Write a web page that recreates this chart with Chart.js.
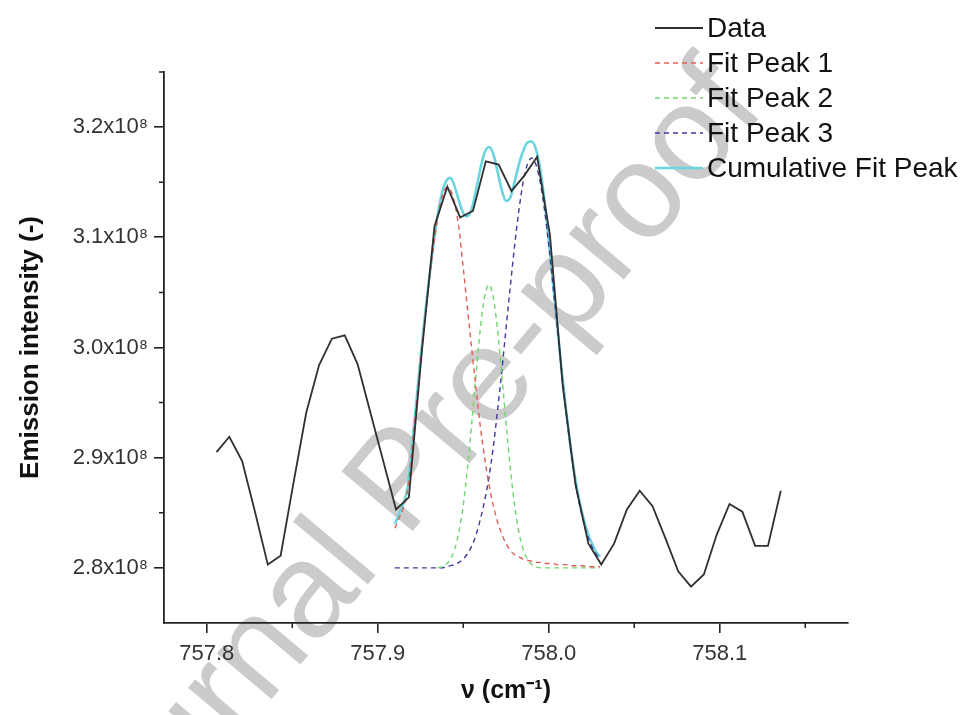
<!DOCTYPE html>
<html>
<head>
<meta charset="utf-8">
<script src="https://cdn.jsdelivr.net/npm/chart.js@4.4.0/dist/chart.umd.min.js"></script>
<style>
html,body{margin:0;padding:0;background:#fff;}
</style>
</head>
<body>
<canvas id="emissionChart" width="964" height="715"></canvas>
<script>
// measured spectrum, wavenumber in cm-1
const dataX=[757.8057,757.8132,757.8207,757.8282,757.8357,757.8432,757.8507,757.8582,757.8657,757.8732,
  757.8807,757.8882,757.8957,757.9032,757.9107,757.9182,757.9257,757.9332,757.9407,757.9482,
  757.9557,757.9632,757.9707,757.9782,757.9857,757.9932,758.0007,758.0082,758.0157,758.0232,
  758.0307,758.0382,758.0457,758.0532,758.0607,758.0682,758.0757,758.0832,758.0907,758.0982,
  758.1057,758.1132,758.1207,758.1282,758.1357];
// intensity, in units of 1e8
const dataY=[2.905,2.919,2.897,2.851,2.803,2.811,2.877,2.941,2.984,3.008,
  3.011,2.985,2.941,2.897,2.853,2.864,2.995,3.110,3.146,3.118,
  3.124,3.169,3.166,3.142,3.156,3.173,3.102,2.965,2.875,2.822,
  2.803,2.822,2.853,2.870,2.856,2.827,2.797,2.783,2.794,2.830,
  2.858,2.851,2.820,2.820,2.870];

// fitted curves share one x grid
const fitX=[757.9100,757.9125,757.9150,757.9175,757.9200,757.9225,757.9250,757.9275,757.9300,757.9325,
  757.9350,757.9375,757.9400,757.9425,757.9450,757.9475,757.9500,757.9525,757.9550,757.9575,
  757.9600,757.9625,757.9650,757.9675,757.9700,757.9725,757.9750,757.9775,757.9800,757.9825,
  757.9850,757.9875,757.9900,757.9925,757.9950,757.9975,758.0000,758.0025,758.0050,758.0075,
  758.0100,758.0125,758.0150,758.0175,758.0200,758.0225,758.0250,758.0275,758.0300];
const peak1Y=[2.836,2.845,2.855,2.871,2.907,2.947,2.987,3.025,3.059,3.090,
  3.117,3.136,3.145,3.143,3.131,3.108,3.072,3.035,2.998,2.962,
  2.928,2.900,2.876,2.857,2.842,2.831,2.822,2.816,2.812,2.810,
  2.808,2.807,2.806,2.805,2.805,2.804,2.804,2.804,2.803,2.803,
  2.803,2.802,2.802,2.802,2.802,2.801,2.801,2.801,2.801];
const peak2Y=[null,null,null,null,null,null,null,null,null,null,
  2.800,2.801,2.803,2.808,2.817,2.833,2.857,2.891,2.932,2.976,
  3.017,3.046,3.057,3.046,3.017,2.976,2.932,2.891,2.857,2.833,
  2.817,2.808,2.803,2.801,2.800,2.800,2.800,2.800,2.800,2.800,
  2.800,2.800,2.800,2.800,2.800,2.800,2.800,2.800,2.800];
const peak3Y=[2.800,2.800,2.800,2.800,2.800,2.800,2.800,2.800,2.800,2.800,
  2.800,2.800,2.801,2.802,2.803,2.805,2.808,2.813,2.820,2.830,
  2.844,2.861,2.882,2.909,2.942,2.978,3.017,3.055,3.092,3.124,
  3.150,3.166,3.172,3.166,3.150,3.125,3.093,3.056,3.018,2.979,
  2.944,2.911,2.884,2.861,2.844,2.830,2.820,2.813,2.808];
const cumulativeY=[2.840,2.849,2.858,2.874,2.910,2.950,2.990,3.028,3.062,3.093,
  3.120,3.140,3.151,3.154,3.146,3.133,3.122,3.119,3.126,3.143,
  3.162,3.177,3.182,3.176,3.160,3.143,3.133,3.136,3.150,3.166,
  3.178,3.186,3.187,3.180,3.162,3.133,3.097,3.058,3.019,2.980,
  2.945,2.913,2.886,2.864,2.847,2.833,2.823,2.815,2.810];

const seriesNames=["Data","Fit Peak 1","Fit Peak 2","Fit Peak 3","Cumulative Fit Peak"];
const xTicks=[757.8,757.9,758.0,758.1];
const xMinorTicks=[757.85,757.95,758.05,758.15];
const yTicks=[2.8,2.9,3.0,3.1,3.2];
const yMinorTicks=[2.85,2.95,3.05,3.15,3.25];

function toPoints(xs,ys){
  return xs.map((x,i)=>({x:x,y:ys[i]}));
}

const FONT='"Liberation Sans", Arial, sans-serif';

// grey diagonal stamp, behind everything
const watermark={
  id:'watermark',
  beforeDraw(chart){
    const ctx=chart.ctx;
    ctx.save();
    ctx.fillStyle='#fff';
    ctx.fillRect(0,0,chart.width,chart.height);
    ctx.translate(432,508);
    ctx.rotate(-50*Math.PI/180);
    ctx.font='135px '+FONT;
    ctx.fillStyle='#cbcbcb';
    ctx.textAlign='center';
    ctx.textBaseline='alphabetic';
    ctx.fillText('Journal Pre-proof',0,0);
    ctx.restore();
  }
};

const minorTicks={
  id:'minorTicks',
  afterDraw(chart){
    const {ctx,scales:{x,y}}=chart;
    ctx.save();
    ctx.strokeStyle='#222';
    ctx.lineWidth=1.5;
    ctx.beginPath();
    xMinorTicks.forEach(v=>{
      const px=x.getPixelForValue(v);
      ctx.moveTo(px,x.top);ctx.lineTo(px,x.top+5);
    });
    yMinorTicks.forEach(v=>{
      const py=y.getPixelForValue(v);
      ctx.moveTo(y.right,py);ctx.lineTo(y.right-5,py);
    });
    ctx.stroke();
    ctx.restore();
  }
};

// legend with line samples, top right
const legendLines={
  id:'legendLines',
  afterDraw(chart){
    const ctx=chart.ctx;
    ctx.save();
    ctx.font='28px '+FONT;
    ctx.textBaseline='middle';
    chart.data.datasets.forEach((ds,i)=>{
      const y=28+i*35;
      ctx.strokeStyle=ds.borderColor;
      ctx.lineWidth=ds.borderWidth;
      ctx.setLineDash(ds.borderDash||[]);
      ctx.beginPath();ctx.moveTo(655,y);ctx.lineTo(703,y);ctx.stroke();
      ctx.setLineDash([]);
      ctx.fillStyle='#111';
      ctx.fillText(ds.label,707,y+1);
    });
    ctx.restore();
  }
};

const ctx=document.getElementById('emissionChart').getContext('2d');

new Chart(ctx,{
  type:'line',
  data:{
    datasets:[
      {label:seriesNames[0],data:toPoints(dataX,dataY),borderColor:'#303030',borderWidth:1.8,pointRadius:0,tension:0},
      {label:seriesNames[1],data:toPoints(fitX,peak1Y),borderColor:'#e35d55',borderWidth:1.4,borderDash:[5,4],pointRadius:0,cubicInterpolationMode:'monotone'},
      {label:seriesNames[2],data:toPoints(fitX,peak2Y),borderColor:'#6fd66f',borderWidth:1.4,borderDash:[5,4],pointRadius:0,cubicInterpolationMode:'monotone'},
      {label:seriesNames[3],data:toPoints(fitX,peak3Y),borderColor:'#3a3c9e',borderWidth:1.4,borderDash:[5,4],pointRadius:0,cubicInterpolationMode:'monotone'},
      {label:seriesNames[4],data:toPoints(fitX,cumulativeY),borderColor:'#6ad4e0',borderWidth:2.6,pointRadius:0,cubicInterpolationMode:'monotone'}
    ]
  },
  options:{
    responsive:false,
    animation:false,
    layout:{padding:{left:0,top:72,right:116,bottom:0}},
    plugins:{legend:{display:false},tooltip:{enabled:false}},
    scales:{
      x:{
        type:'linear',
        min:757.775,
        max:758.175,
        afterBuildTicks(scale){scale.ticks=xTicks.map(v=>({value:v}));},
        afterFit(scale){scale.height=92;},
        border:{display:true,color:'#222',width:1.8},
        grid:{drawOnChartArea:false,drawTicks:true,tickLength:10,color:'#222',lineWidth:1.6},
        ticks:{autoSkip:false,maxRotation:0,padding:8,color:'#333',font:{family:FONT,size:22},
          callback:v=>v.toFixed(1)},
        title:{display:true,text:'\u03bd (cm\u207b\u00b9)',color:'#111',
          font:{family:FONT,size:25,weight:'bold'},padding:{top:0,bottom:9}}
      },
      y:{
        min:2.75,
        max:3.25,
        afterBuildTicks(scale){scale.ticks=yTicks.map(v=>({value:v}));},
        afterFit(scale){scale.width=164;},
        border:{display:true,color:'#222',width:1.8},
        grid:{drawOnChartArea:false,drawTicks:true,tickLength:10,color:'#222',lineWidth:1.6},
        ticks:{autoSkip:false,padding:6,color:'#333',font:{family:FONT,size:22},
          callback:v=>v.toFixed(1)+'x10\u2078'},
        title:{display:true,text:'Emission intensity (-)',color:'#111',
          font:{family:FONT,size:26,weight:'bold'},padding:{top:15,bottom:0}}
      }
    }
  },
  plugins:[watermark,minorTicks,legendLines]
});
</script>
</body>
</html>
